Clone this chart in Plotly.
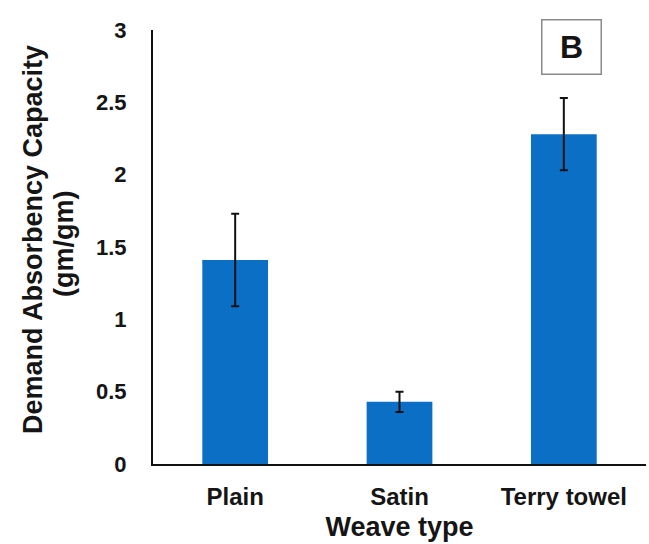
import plotly.graph_objects as go

categories = ["Plain", "Satin", "Terry towel"]
values = [1.41, 0.43, 2.28]
errors = [0.32, 0.07, 0.25]
y_ticks = [0, 0.5, 1, 1.5, 2, 2.5, 3]
y_tick_labels = ["0", "0.5", "1", "1.5", "2", "2.5", "3"]

W, H = 649, 544
L, R, T, B = 153, 3, 30, 80
pw = W - L - R
ph = H - T - B

FONT = "Liberation Sans, Arial, sans-serif"
INK = "#151515"

fig = go.Figure(
    go.Bar(
        x=categories,
        y=values,
        width=0.4,
        marker=dict(color="#0B6FC6", line=dict(width=0)),
        error_y=dict(type="data", array=errors, visible=True,
                     color="#111111", thickness=2, width=4),
    )
)

def px_x(p):
    return (p - L) / pw

def px_y(p):
    return 1 - (p - T) / ph

fig.update_layout(
    width=W, height=H,
    margin=dict(l=L, r=R, t=T, b=B, autoexpand=False),
    paper_bgcolor="white", plot_bgcolor="white",
    showlegend=False,
    font=dict(family=FONT, color=INK, weight="bold"),
    xaxis=dict(
        showline=True, linecolor="#111111", linewidth=2,
        showgrid=False, zeroline=False, ticks="",
        tickfont=dict(size=24, family=FONT, color=INK, weight="bold"),
        ticklabelstandoff=10,
        title=dict(text="Weave type", standoff=8,
                   font=dict(size=27, family=FONT, color=INK, weight="bold")),
    ),
    yaxis=dict(
        range=[0, 3],
        tickvals=y_ticks, ticktext=y_tick_labels,
        showline=True, linecolor="#111111", linewidth=2,
        showgrid=False, zeroline=False, ticks="",
        tickfont=dict(size=22, family=FONT, color=INK, weight="bold"),
        ticklabelstandoff=20,
    ),
    annotations=[
        dict(text="Demand Absorbency Capacity", textangle=-90,
             xref="paper", yref="paper", x=px_x(33), y=px_y(240),
             xanchor="center", yanchor="middle", showarrow=False,
             font=dict(size=27, family=FONT, color=INK, weight="bold")),
        dict(text="(gm/gm)", textangle=-90,
             xref="paper", yref="paper", x=px_x(64), y=px_y(244),
             xanchor="center", yanchor="middle", showarrow=False,
             font=dict(size=27, family=FONT, color=INK, weight="bold")),
        dict(text="B", xref="paper", yref="paper",
             x=px_x(571), y=px_y(47), xanchor="center", yanchor="middle",
             showarrow=False, width=58, height=53, borderpad=0,
             bordercolor="#8a8a8a", borderwidth=1.5, bgcolor="white",
             font=dict(size=32, family=FONT, color=INK, weight="bold")),
    ],
)

fig.write_html("out.html",
               config={"displayModeBar": False},
               post_script="document.body.style.margin='0';document.body.style.padding='0';")
